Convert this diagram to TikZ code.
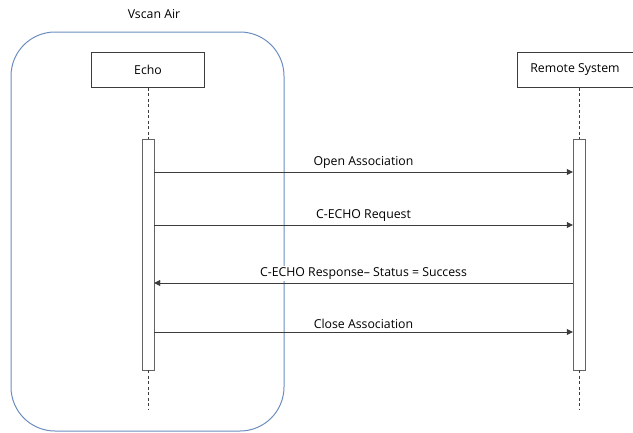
\documentclass[tikz,border=0pt]{standalone}
\usepackage{fontspec}
\setmainfont{Open Sans}
\usepackage{xcolor}
\usepackage{tikz}
\usetikzlibrary{arrows.meta,positioning,calc}

\definecolor{groupblue}{RGB}{108,142,191}
\definecolor{linegray}{RGB}{60,60,60}

\tikzset{
  actor/.style={draw=linegray, fill=white, minimum width=113pt, minimum height=35pt, inner sep=0pt, font=\fontsize{12.3}{14}\selectfont},
  actbar/.style={draw=linegray!80, fill=white, minimum width=12pt, minimum height=231pt, inner sep=0pt},
  lifeline/.style={draw=linegray, dashed, dash pattern=on 3pt off 2.5pt},
  msg/.style={draw=linegray, -{Triangle[length=6pt,width=6pt]}},
  msglabel/.style={fill=white, inner sep=1.5pt, font=\fontsize{12.3}{14}\selectfont}
}

\begin{document}
\begin{tikzpicture}[x=1pt,y=-1pt]
\useasboundingbox (0,0) rectangle (633,432);

% Group frame
\draw[groupblue, line width=1pt, rounded corners=44pt] (11,32) rectangle (284,431);
\node[font=\fontsize{12.3}{14}\selectfont] (grouptitle) at (154,14) {Vscan Air};

% Participants
\node[actor] (echo) at (148,70) {Echo};
\node[actor, minimum width=116pt] (remote) at (575,70) {Remote System};

% Activation bars
\node[actbar] (echobar) at (148,254.5) {};
\node[actbar] (remotebar) at (579,254.5) {};

% Lifelines
\coordinate (echoend) at (148,410);
\coordinate (remoteend) at (579,410);
\draw[lifeline] (echo.south) -- (echobar.north);
\draw[lifeline] (echobar.south) -- (echoend);
\draw[lifeline] (echobar.south -| remotebar) -- (remoteend);
\draw[lifeline] (remote.south -| remotebar) -- (remotebar.north);

% Messages
\draw[msg] (echobar.east |- 0,172) -- node[msglabel, above=2pt] (m1) {Open Association} (remotebar.west |- 0,172);
\draw[msg] (echobar.east |- 0,225) -- node[msglabel, above=2pt] (m2) {C-ECHO Request} (remotebar.west |- 0,225);
\draw[msg] (remotebar.west |- 0,283) -- node[msglabel, above=2pt] (m3) {C-ECHO Response-- Status = Success} (echobar.east |- 0,283);
\draw[msg] (echobar.east |- 0,332) -- node[msglabel, above=2pt] (m4) {Close Association} (remotebar.west |- 0,332);

\end{tikzpicture}
\end{document}
